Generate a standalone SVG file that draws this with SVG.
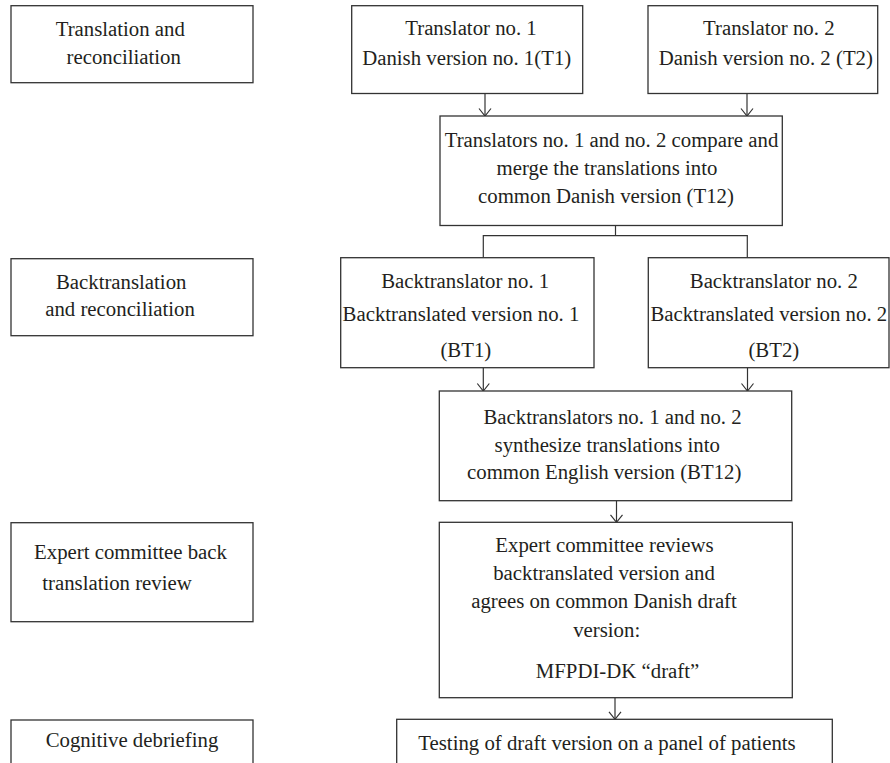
<svg xmlns="http://www.w3.org/2000/svg" width="890" height="763" viewBox="0 0 890 763">
<defs>
<style>
.box{fill:#fff;stroke:#333;stroke-width:1.3}
.t{font-family:"Liberation Serif","Times New Roman",serif;font-size:20.8px;fill:#231f20;text-anchor:middle}
.c{fill:none;stroke:#333;stroke-width:1.2}
</style>
<marker id="arr" markerUnits="userSpaceOnUse" markerWidth="16" markerHeight="16" viewBox="-9 -8 10 16" refX="0" refY="0" orient="auto">
<path d="M-7.5,-6 L0,0 L-7.5,6" fill="none" stroke="#333" stroke-width="1.2"/>
</marker>
</defs>
<rect width="890" height="763" fill="#fff"/>
<g id="connectors">
<line class="c" x1="485" y1="93.5" x2="485" y2="116" marker-end="url(#arr)"/>
<line class="c" x1="747" y1="93.5" x2="747" y2="116" marker-end="url(#arr)"/>
<polyline class="c" points="615.5,225.5 615.5,235.7"/>
<polyline class="c" points="483.3,257.7 483.3,235.7 747.3,235.7 747.3,257.7"/>
<line class="c" x1="483.3" y1="367.7" x2="483.3" y2="391" marker-end="url(#arr)"/>
<line class="c" x1="747.5" y1="367.7" x2="747.5" y2="391" marker-end="url(#arr)"/>
<line class="c" x1="616.5" y1="500.7" x2="616.5" y2="522.3" marker-end="url(#arr)"/>
<line class="c" x1="615" y1="697.7" x2="615" y2="719.3" marker-end="url(#arr)"/>
</g>
<g id="stage1">
<rect class="box" x="11" y="5.7" width="242" height="77"/>
<text class="t" x="120.3" y="36">Translation and</text>
<text class="t" x="123.7" y="64">reconciliation</text>
</g>
<g id="t1">
<rect class="box" x="351.7" y="5.7" width="231" height="87.8"/>
<text class="t" x="471" y="35">Translator no. 1</text>
<text class="t" x="466.7" y="65">Danish version no. 1(T1)</text>
</g>
<g id="t2">
<rect class="box" x="648" y="5.7" width="229.7" height="87.8"/>
<text class="t" x="768.8" y="35">Translator no. 2</text>
<text class="t" x="765.8" y="65">Danish version no. 2 (T2)</text>
</g>
<g id="t12">
<rect class="box" x="440" y="116" width="342.3" height="109.5"/>
<text class="t" x="611.5" y="146.7">Translators no. 1 and no. 2 compare and</text>
<text class="t" x="607" y="175">merge the translations into</text>
<text class="t" x="606" y="203.3">common Danish version (T12)</text>
</g>
<g id="stage2">
<rect class="box" x="11" y="258.7" width="242" height="77"/>
<text class="t" x="121.2" y="289">Backtranslation</text>
<text class="t" x="120" y="316">and reconciliation</text>
</g>
<g id="bt1">
<rect class="box" x="340.7" y="257.7" width="253.3" height="110"/>
<text class="t" x="465.2" y="287.7">Backtranslator no. 1</text>
<text class="t" x="461" y="321">Backtranslated version no. 1</text>
<text class="t" x="465.8" y="356.7">(BT1)</text>
</g>
<g id="bt2">
<rect class="box" x="648.3" y="257.7" width="240.7" height="110"/>
<text class="t" x="773.8" y="287.7">Backtranslator no. 2</text>
<text class="t" x="768.8" y="321">Backtranslated version no. 2</text>
<text class="t" x="773.8" y="356.7">(BT2)</text>
</g>
<g id="bt12">
<rect class="box" x="439.3" y="391" width="352.4" height="109.7"/>
<text class="t" x="612.5" y="424.3">Backtranslators no. 1 and no. 2</text>
<text class="t" x="607.2" y="452">synthesize translations into</text>
<text class="t" x="604.2" y="479.3">common English version (BT12)</text>
</g>
<g id="stage3">
<rect class="box" x="11" y="522.7" width="242" height="99"/>
<text class="t" x="130.5" y="559">Expert committee back</text>
<text class="t" x="117" y="590">translation review</text>
</g>
<g id="expert">
<rect class="box" x="439.3" y="522.3" width="353" height="175.4"/>
<text class="t" x="604.5" y="552">Expert committee reviews</text>
<text class="t" x="604" y="580">backtranslated version and</text>
<text class="t" x="604" y="607.7">agrees on common Danish draft</text>
<text class="t" x="606.7" y="636.5">version:</text>
<text class="t" x="617.5" y="678">MFPDI-DK “draft”</text>
</g>
<g id="stage4">
<rect class="box" x="11" y="720" width="242" height="50"/>
<text class="t" x="132" y="746.7">Cognitive debriefing</text>
</g>
<g id="testing">
<rect class="box" x="396.7" y="719.3" width="435.6" height="50"/>
<text class="t" x="607" y="750">Testing of draft version on a panel of patients</text>
</g>
</svg>
